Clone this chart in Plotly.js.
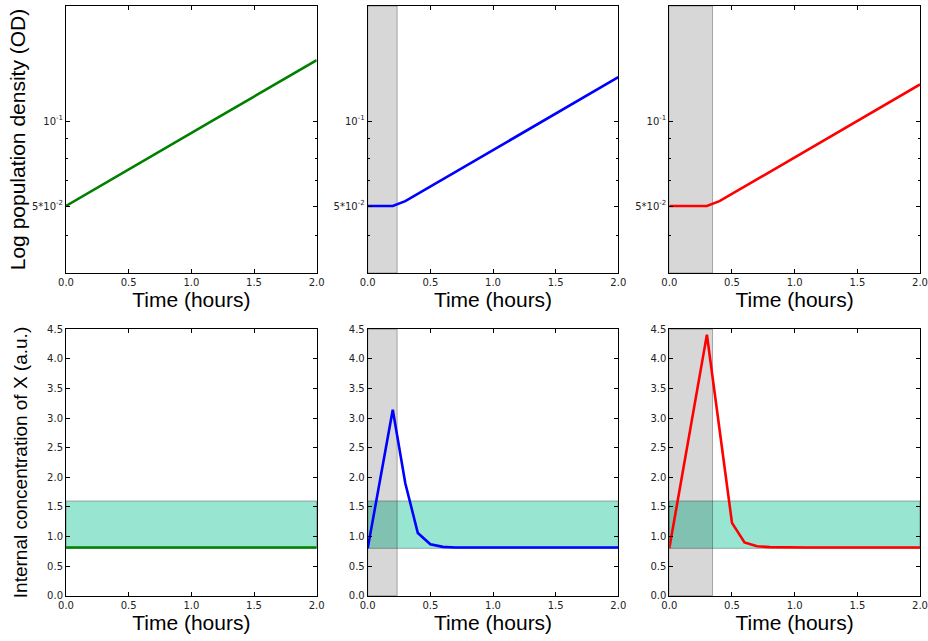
<!DOCTYPE html>
<html>
<head>
<meta charset="utf-8">
<script src="https://cdn.plot.ly/plotly-3.0.1.min.js"></script>
<style>
  html, body { margin: 0; padding: 0; background: #fff; }
  #chart { width: 928px; height: 641px; }
</style>
</head>
<body>
<div id="chart"></div>
<script>
// Sampling times (hours)
const time = [0.0, 0.1, 0.2, 0.3, 0.4, 0.5, 0.6, 0.7, 0.8, 0.9, 1.0,
              1.1, 1.2, 1.3, 1.4, 1.5, 1.6, 1.7, 1.8, 1.9, 2.0];

// Population density (OD), one series per condition
const odControl = [0.0500, 0.0531, 0.0563, 0.0598, 0.0634, 0.0673, 0.0715, 0.0758, 0.0805, 0.0854, 0.0907,
                   0.0962, 0.1021, 0.1084, 0.1150, 0.1221, 0.1295, 0.1375, 0.1459, 0.1548, 0.1643];
const odShort   = [0.0500, 0.0500, 0.0500, 0.0520, 0.0552, 0.0586, 0.0622, 0.0660, 0.0700, 0.0743, 0.0789,
                   0.0837, 0.0888, 0.0943, 0.1001, 0.1062, 0.1127, 0.1196, 0.1269, 0.1347, 0.1430];
const odLong    = [0.0500, 0.0500, 0.0500, 0.0500, 0.0520, 0.0552, 0.0586, 0.0622, 0.0660, 0.0700, 0.0743,
                   0.0789, 0.0837, 0.0888, 0.0943, 0.1001, 0.1062, 0.1127, 0.1196, 0.1269, 0.1347];

// Internal concentration of X (a.u.)
const xControl = [0.815, 0.815, 0.815, 0.815, 0.815, 0.815, 0.815, 0.815, 0.815, 0.815, 0.815,
                  0.815, 0.815, 0.815, 0.815, 0.815, 0.815, 0.815, 0.815, 0.815, 0.815];
const xShort   = [0.80, 1.97, 3.14, 1.90, 1.06, 0.87, 0.825, 0.815, 0.815, 0.815, 0.815,
                  0.815, 0.815, 0.815, 0.815, 0.815, 0.815, 0.815, 0.815, 0.815, 0.815];
const xLong    = [0.80, 2.00, 3.21, 4.41, 2.82, 1.23, 0.90, 0.835, 0.82, 0.815, 0.815,
                  0.815, 0.815, 0.815, 0.815, 0.815, 0.815, 0.815, 0.815, 0.815, 0.815];

// Exposure windows (hours) and tolerated concentration band
const exposureShort = 0.235;
const exposureLong = 0.345;
const bandLow = 0.8;
const bandHigh = 1.6;

// Axis tick labels
const timeTicks = [0, 0.5, 1.0, 1.5, 2.0];
const odTickVals = [0.1, 0.05];
const odTickText = ['10<sup>-1</sup>', '5*10<sup>-2</sup>'];
const odMinorVals = [0.0869, 0.0738, 0.0617, 0.0393];
const concTicks = [0, 0.5, 1.0, 1.5, 2.0, 2.5, 3.0, 3.5, 4.0, 4.5];

const colors = ['#008000', '#0000ff', '#ff0000'];
const odSeries = [odControl, odShort, odLong];
const xSeries = [xControl, xShort, xLong];

const W = 928, H = 641;
const colPx = [[66, 316.7], [367.7, 618.3], [669.3, 920]];
const rowPx = [[6, 273], [329.3, 595.7]];

const tickFont = { family: 'DejaVu Sans, sans-serif', size: 10, color: '#222' };
const titleFamily = 'Liberation Sans, Arial, sans-serif';
const titleFont = { family: titleFamily, size: 21, color: '#000' };

const traces = [];
const layout = {
  width: W, height: H,
  margin: { l: 0, r: 0, t: 0, b: 0 },
  paper_bgcolor: '#fff', plot_bgcolor: '#fff',
  showlegend: false,
  shapes: []
};

function baseAxis() {
  return {
    showline: true, linecolor: '#000', linewidth: 1, mirror: 'ticks',
    ticks: 'inside', ticklen: 4, tickwidth: 1, tickcolor: '#000',
    showgrid: false, zeroline: false, tickfont: tickFont
  };
}

for (let row = 0; row < 2; row++) {
  for (let col = 0; col < 3; col++) {
    const idx = row * 3 + col + 1;
    const xa = idx === 1 ? 'x' : 'x' + idx;
    const ya = idx === 1 ? 'y' : 'y' + idx;
    const xKey = idx === 1 ? 'xaxis' : 'xaxis' + idx;
    const yKey = idx === 1 ? 'yaxis' : 'yaxis' + idx;

    const xAxis = Object.assign(baseAxis(), {
      domain: [colPx[col][0] / W, colPx[col][1] / W],
      anchor: ya, range: [0, 2],
      tickmode: 'array', tickvals: timeTicks, tickformat: '.1f',
      title: { text: 'Time (hours)', font: titleFont, standoff: 5 }
    });
    const yAxis = Object.assign(baseAxis(), {
      domain: [1 - rowPx[row][1] / H, 1 - rowPx[row][0] / H],
      anchor: xa
    });

    if (row === 0) {
      Object.assign(yAxis, {
        type: 'log', range: [-1.5383, -0.5927],
        tickmode: 'array', tickvals: odTickVals, ticktext: odTickText,
        minor: { tickmode: 'array', tickvals: odMinorVals, ticks: 'inside', ticklen: 2, tickcolor: '#000' }
      });
      if (col === 0) {
        yAxis.title = { text: 'Log population density (OD)', font: { family: titleFamily, size: 21, color: '#000' }, standoff: 0 };
      }
      traces.push({ x: time, y: odSeries[col], xaxis: xa, yaxis: ya, type: 'scatter', mode: 'lines',
                    line: { color: colors[col], width: 2.6 }, hoverinfo: 'skip' });
    } else {
      Object.assign(yAxis, {
        range: [0, 4.5], tickmode: 'array', tickvals: concTicks, tickformat: '.1f'
      });
      if (col === 0) {
        yAxis.title = { text: 'Internal concentration of X (a.u.)', font: { family: titleFamily, size: 19, color: '#000' }, standoff: 14 };
      }
      // tolerated band
      layout.shapes.push({
        type: 'rect', xref: xa + ' domain', yref: ya, x0: 0, x1: 1, y0: bandLow, y1: bandHigh,
        fillcolor: 'rgb(152,229,210)', line: { color: 'rgba(0,0,0,0.3)', width: 1 }, layer: 'below'
      });
      traces.push({ x: time, y: xSeries[col], xaxis: xa, yaxis: ya, type: 'scatter', mode: 'lines',
                    line: { color: colors[col], width: 2.6 }, hoverinfo: 'skip' });
    }

    // exposure window
    if (col > 0) {
      layout.shapes.push({
        type: 'rect', xref: xa, yref: ya + ' domain', x0: 0, x1: col === 1 ? exposureShort : exposureLong,
        y0: 0, y1: 1, fillcolor: 'rgba(0,0,0,0.155)', line: { color: 'rgba(0,0,0,0.3)', width: 1 }, layer: 'below'
      });
    }

    layout[xKey] = xAxis;
    layout[yKey] = yAxis;
  }
}

Plotly.newPlot('chart', traces, layout, { displayModeBar: false, staticPlot: true });
</script>
</body>
</html>
